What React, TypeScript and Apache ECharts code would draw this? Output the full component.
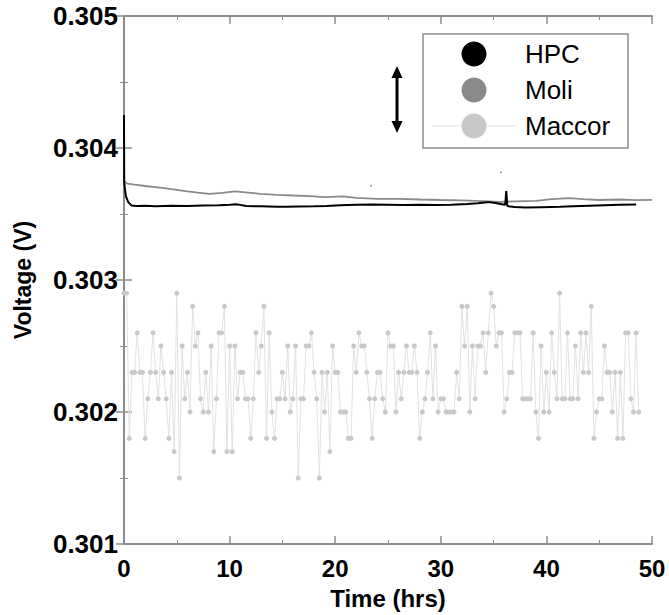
import { useEffect, useRef } from "react";
import * as echarts from "echarts";

// ---------- data ----------
const seriesNames = ["HPC", "Moli", "Maccor"];

const hpcTime = [0, 0.02, 0.1, 0.2, 0.4, 0.7, 1.2, 2, 3, 4.5, 6, 7.5, 9, 10, 10.7, 11.6, 13, 14.5, 15.4, 16.5, 18, 19.2, 20.5, 22, 23.5, 25, 26.5, 28, 29.5, 31, 32.5, 33.5, 34.6, 35.3, 35.8, 36.1, 36.2, 36.3, 37, 38, 39.5, 41.3, 42.5, 44, 45.5, 47, 48.5];
const hpcVolt = [0.30425, 0.30374, 0.30368, 0.30363, 0.30359, 0.303565, 0.30356, 0.303562, 0.303558, 0.303562, 0.30356, 0.303564, 0.303566, 0.30357, 0.303573, 0.303561, 0.303558, 0.303555, 0.303554, 0.303556, 0.303558, 0.303561, 0.303566, 0.30357, 0.303572, 0.303571, 0.303568, 0.30357, 0.303569, 0.303571, 0.303576, 0.303582, 0.30359, 0.303582, 0.303574, 0.30357, 0.303673, 0.30356, 0.303553, 0.30355, 0.303552, 0.303554, 0.303558, 0.303562, 0.303566, 0.30357, 0.303572];

const moliTime = [0, 0.3, 1, 2, 3.4, 4.5, 6, 7, 8.1, 9.3, 10.5, 11.5, 12.9, 14.5, 16, 17.6, 19, 20.7, 22, 24, 26, 28, 30, 32, 34, 35.5, 37, 39, 40.5, 42.2, 43.5, 45, 47, 48.5, 50];
const moliVolt = [0.30375, 0.30373, 0.303722, 0.303712, 0.3037, 0.303688, 0.303672, 0.303662, 0.303653, 0.30366, 0.303671, 0.303664, 0.303653, 0.303645, 0.30364, 0.303635, 0.303628, 0.303633, 0.303622, 0.303615, 0.303615, 0.30361, 0.303606, 0.303603, 0.303598, 0.303592, 0.303596, 0.3036, 0.303612, 0.30362, 0.303613, 0.303606, 0.30361, 0.303605, 0.303607];

const strayTime = [23.4, 35.7];
const strayVolt = [0.303714, 0.303816];

// Maccor: one reading every 0.25 h starting at 0 h
const maccorStartHrs = 0;
const maccorStepHrs = 0.25;
const maccorVolt = [
  0.3029, 0.3029, 0.3018, 0.3023, 0.3023, 0.3026, 0.3023, 0.3023, 0.3018, 0.3021,
  0.3023, 0.3026, 0.3023, 0.3021, 0.3025, 0.3023, 0.3021, 0.3018, 0.3023, 0.3017,
  0.3029, 0.3015, 0.3025, 0.3021, 0.3023, 0.302, 0.3028, 0.3025, 0.3026, 0.3021,
  0.302, 0.3023, 0.302, 0.3025, 0.3017, 0.3021, 0.3026, 0.3026, 0.3028, 0.3017,
  0.3025, 0.3017, 0.3025, 0.3021, 0.3023, 0.3023, 0.3021, 0.3021, 0.3018, 0.3021,
  0.3026, 0.3023, 0.3025, 0.3028, 0.3018, 0.3026, 0.302, 0.3018, 0.3021, 0.3021,
  0.3023, 0.3021, 0.3025, 0.302, 0.3021, 0.3025, 0.3015, 0.3021, 0.3021, 0.3025,
  0.3025, 0.3026, 0.3023, 0.3021, 0.3015, 0.3023, 0.302, 0.3023, 0.3017, 0.3025,
  0.3023, 0.3023, 0.302, 0.302, 0.302, 0.3018, 0.3018, 0.3025, 0.3023, 0.3026,
  0.3025, 0.3025, 0.3023, 0.3021, 0.3018, 0.3021, 0.3023, 0.3023, 0.3021, 0.302,
  0.3026, 0.3025, 0.3025, 0.302, 0.3023, 0.3021, 0.3023, 0.3025, 0.3023, 0.3023,
  0.3025, 0.3023, 0.3018, 0.302, 0.3021, 0.3023, 0.3026, 0.3021, 0.3025, 0.302,
  0.3021, 0.3021, 0.302, 0.302, 0.302, 0.302, 0.3023, 0.3021, 0.3028, 0.3025,
  0.3028, 0.302, 0.3025, 0.3021, 0.3025, 0.3025, 0.3026, 0.3023, 0.3026, 0.3029,
  0.3028, 0.3025, 0.3026, 0.3026, 0.302, 0.3021, 0.3023, 0.3023, 0.3026, 0.3026,
  0.3026, 0.3021, 0.3021, 0.3021, 0.3021, 0.3026, 0.302, 0.3018, 0.3025, 0.302,
  0.3023, 0.302, 0.3026, 0.3023, 0.3021, 0.3029, 0.3021, 0.3021, 0.3026, 0.3021,
  0.3021, 0.3025, 0.3021, 0.3026, 0.3023, 0.3026, 0.3023, 0.3028, 0.3018, 0.302,
  0.3021, 0.3021, 0.3025, 0.3023, 0.3023, 0.302, 0.3023, 0.3018, 0.3023, 0.3018,
  0.3026, 0.3026, 0.3021, 0.302, 0.3026, 0.302,
];

const xMin = 0;
const xMax = 50;
const xStep = 10;
const yMin = 0.301;
const yMax = 0.305;
const yStep = 0.001;
const xAxisTitle = "Time (hrs)";
const yAxisTitle = "Voltage (V)";

const colors = { hpc: "#000000", moli: "#8a8a8a", maccor: "#c8c8c8", maccorLine: "#e2e2e2" };

export default function App() {
  const ref = useRef<HTMLDivElement>(null);

  useEffect(() => {
    if (!ref.current) return;
    const chart = echarts.init(ref.current, undefined, { renderer: "svg" });

    const pairs = (t: number[], v: number[]) => t.map((x, i) => [x, v[i]]);
    const maccorData = maccorVolt.map((v, i) => [maccorStartHrs + i * maccorStepHrs, v]);

    const axisColor = "#8c8c8c";
    const font = "Liberation Sans, Arial, sans-serif";

    const baseTick = { show: true, inside: true, length: 8, lineStyle: { color: axisColor, width: 1.5 } };
    const baseMinor = { show: true, splitNumber: 2, length: 4, lineStyle: { color: axisColor, width: 1 } };
    const baseLine = { show: true, lineStyle: { color: axisColor, width: 2 } };

    const legendX = 474;
    const legendTextX = 525;
    const legendRows = [54, 90, 126];
    const legendColors = [colors.hpc, colors.moli, colors.maccor];

    chart.setOption({
      animation: false,
      backgroundColor: "#ffffff",
      grid: { left: 124, right: 17, top: 16, bottom: 71 },
      xAxis: [
        {
          type: "value",
          min: xMin,
          max: xMax,
          interval: xStep,
          position: "bottom",
          axisLine: baseLine,
          axisTick: baseTick,
          minorTick: baseMinor,
          splitLine: { show: false },
          axisLabel: { color: "#000", fontSize: 24, fontWeight: "bold", fontFamily: font, margin: 12 },
          name: xAxisTitle,
          nameLocation: "middle",
          nameGap: 42,
          nameTextStyle: { color: "#000", fontSize: 24, fontWeight: "bold", fontFamily: font },
        },
        {
          type: "value",
          min: xMin,
          max: xMax,
          interval: xStep,
          position: "top",
          axisLine: baseLine,
          axisTick: baseTick,
          minorTick: baseMinor,
          splitLine: { show: false },
          axisLabel: { show: false },
        },
      ],
      yAxis: [
        {
          type: "value",
          min: yMin,
          max: yMax,
          interval: yStep,
          position: "left",
          axisLine: baseLine,
          axisTick: baseTick,
          minorTick: baseMinor,
          splitLine: { show: false },
          axisLabel: {
            color: "#000",
            fontSize: 26,
            fontWeight: "bold",
            fontFamily: font,
            margin: 6,
            formatter: (v: number) => v.toFixed(3),
          },
          name: yAxisTitle,
          nameLocation: "middle",
          nameGap: 90,
          nameTextStyle: { color: "#000", fontSize: 23, fontWeight: "bold", fontFamily: font },
        },
        {
          type: "value",
          min: yMin,
          max: yMax,
          interval: yStep,
          position: "right",
          axisLine: baseLine,
          axisTick: baseTick,
          minorTick: baseMinor,
          splitLine: { show: false },
          axisLabel: { show: false },
        },
      ],
      series: [
        {
          name: seriesNames[2],
          type: "line",
          data: maccorData,
          symbol: "circle",
          symbolSize: 5,
          showSymbol: true,
          itemStyle: { color: colors.maccor },
          lineStyle: { color: colors.maccorLine, width: 1 },
          z: 2,
        },
        {
          name: seriesNames[1],
          type: "line",
          data: pairs(moliTime, moliVolt),
          showSymbol: false,
          symbol: "none",
          lineStyle: { color: colors.moli, width: 1.8 },
          z: 3,
        },
        {
          name: seriesNames[0],
          type: "line",
          data: pairs(hpcTime, hpcVolt),
          showSymbol: false,
          symbol: "none",
          lineStyle: { color: colors.hpc, width: 2 },
          z: 4,
        },
        {
          name: "stray",
          type: "scatter",
          data: pairs(strayTime, strayVolt),
          symbolSize: 2,
          itemStyle: { color: colors.moli },
          z: 3,
        },
      ],
      graphic: [
        // double-headed arrow
        { type: "line", shape: { x1: 397, y1: 74, x2: 397, y2: 125 }, style: { stroke: "#000", lineWidth: 3 }, z: 10 },
        { type: "polygon", shape: { points: [[397, 66], [391.5, 78], [402.5, 78]] }, style: { fill: "#000" }, z: 10 },
        { type: "polygon", shape: { points: [[397, 133], [391.5, 121], [402.5, 121]] }, style: { fill: "#000" }, z: 10 },
        // legend box
        {
          type: "rect",
          shape: { x: 423, y: 34, width: 205, height: 114 },
          style: { fill: "#fff", stroke: "#8c8c8c", lineWidth: 1.5 },
          z: 10,
        },
        {
          type: "line",
          shape: { x1: 432, y1: legendRows[2], x2: 515, y2: legendRows[2] },
          style: { stroke: colors.maccorLine, lineWidth: 1.2 },
          z: 11,
        },
        ...legendRows.map((y, i) => ({
          type: "circle",
          shape: { cx: legendX, cy: y, r: 12.5 },
          style: { fill: legendColors[i] },
          z: 12,
        })),
        ...legendRows.map((y, i) => ({
          type: "text",
          x: legendTextX,
          y,
          style: {
            text: seriesNames[i],
            fill: "#000",
            font: `26px ${font}`,
            verticalAlign: "middle",
            align: "left",
          },
          z: 12,
        })),
      ],
    });

    return () => chart.dispose();
  }, []);

  return <div ref={ref} style={{ position: "fixed", left: 0, top: 0, width: 669, height: 615 }} />;
}
